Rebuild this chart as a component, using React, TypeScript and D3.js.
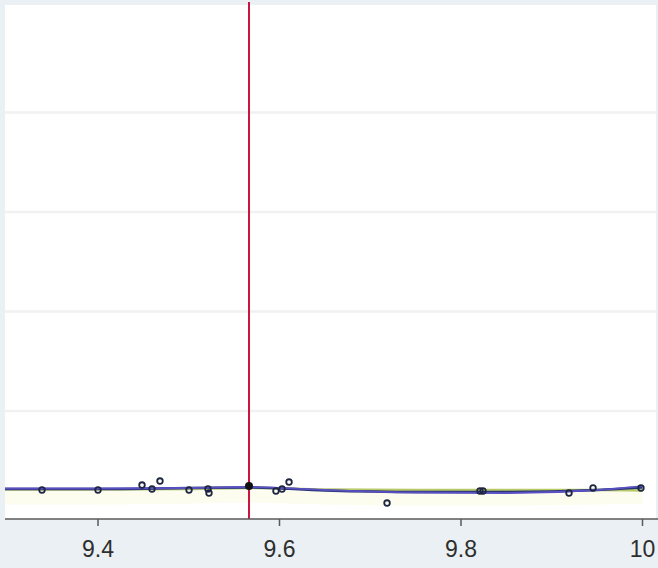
import React from "react";
import * as d3 from "d3";

const xTicks = [9.4, 9.6, 9.8, 10];
const xTickLabels = ["9.4", "9.6", "9.8", "10"];
const yGrid = [1, 2, 3, 4];

const pointX = [9.3383, 9.4, 9.4485, 9.4595, 9.4683, 9.5003, 9.5212, 9.5223, 9.5961, 9.6028, 9.6105, 9.7185, 9.8209, 9.8242, 9.919, 9.9455, 9.9983];
const pointY = [0.206, 0.206, 0.256, 0.216, 0.296, 0.206, 0.216, 0.176, 0.196, 0.216, 0.286, 0.075, 0.196, 0.196, 0.176, 0.226, 0.226];

const cutoff = 9.5664;
const cutoffY = 0.246;

const fitX = [9.2975, 9.4, 9.5, 9.5664, 9.65, 9.75, 9.85, 9.95, 10.0];
const fitNavy = [0.216, 0.216, 0.226, 0.231, 0.201, 0.186, 0.186, 0.206, 0.231];
const fitPurple = [0.221, 0.221, 0.226, 0.236, 0.206, 0.181, 0.176, 0.206, 0.246];
const fitGreen = [0.211, 0.211, 0.216, 0.226, 0.211, 0.206, 0.206, 0.206, 0.201];
const bandLow = [0.06, 0.06, 0.07, 0.08, 0.06, 0.05, 0.05, 0.06, 0.07];
const bandHigh = [0.2, 0.2, 0.2, 0.2, 0.19, 0.18, 0.18, 0.19, 0.2];

export default function App() {
  const W = 658, H = 568;
  const left = 5, right = 656, top = 5, bottom = 519;
  const x = d3.scaleLinear().domain([9.4, 9.6]).range([98, 279.5]);
  const y = d3.scaleLinear().domain([0, 1]).range([510.5, 411]);

  const mk = (ys: number[]) =>
    d3.line<number>().x((_, i) => x(fitX[i])).y((d) => y(d)).curve(d3.curveMonotoneX)(ys) || "";
  const band =
    d3
      .area<number>()
      .x((_, i) => x(fitX[i]))
      .y0((_, i) => y(bandLow[i]))
      .y1((_, i) => y(bandHigh[i]))
      .curve(d3.curveMonotoneX)(fitX) || "";

  return (
    <svg width={W} height={H} style={{ position: "absolute", left: 0, top: 0 }} fontFamily="Liberation Sans, Arial, sans-serif">
      <rect x={0} y={0} width={W} height={H} fill="#eaf0f3" />
      <rect x={left} y={top} width={right - left} height={bottom - top} fill="#ffffff" />
      {yGrid.map((g) => (
        <line key={g} x1={left} x2={right} y1={y(g)} y2={y(g)} stroke="#f1f1f1" strokeWidth={2.5} />
      ))}
      <path d={band} fill="#fcfcef" />
      <path d={mk(fitGreen)} fill="none" stroke="#b9c96a" strokeWidth={2.5} />
      <path d={mk(fitNavy)} fill="none" stroke="#24356e" strokeWidth={2.5} />
      <path d={mk(fitPurple)} fill="none" stroke="#5b4fc4" strokeWidth={1.8} />
      <line x1={x(cutoff)} x2={x(cutoff)} y1={2} y2={bottom} stroke="#c8163e" strokeWidth={2} />
      {pointX.map((px, i) => (
        <circle key={i} cx={x(px)} cy={y(pointY[i])} r={2.8} fill="none" stroke="#1e2540" strokeWidth={1.8} />
      ))}
      <circle cx={x(cutoff)} cy={y(cutoffY)} r={4} fill="#111" />
      <line x1={left} x2={W} y1={bottom} y2={bottom} stroke="#5a5a5a" strokeWidth={1.5} />
      {xTicks.map((t, i) => (
        <g key={t}>
          <line x1={x(t)} x2={x(t)} y1={bottom} y2={bottom + 7} stroke="#5a5a5a" strokeWidth={1.5} />
          <text x={x(t)} y={557} textAnchor="middle" fontSize={23} fill="#2e2e2e">
            {xTickLabels[i]}
          </text>
        </g>
      ))}
    </svg>
  );
}
